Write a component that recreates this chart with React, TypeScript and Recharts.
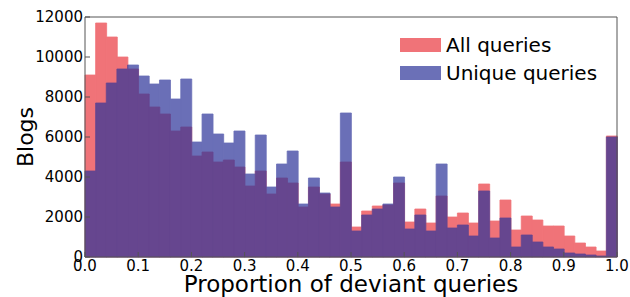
import React from 'react'
import { ComposedChart, Bar, XAxis, YAxis, ReferenceLine } from 'recharts'

// bin left edges, width 0.02
const bins = Array.from({ length: 50 }, (_, i) => (i * 0.02).toFixed(2))

const allQueries = [
  9100, 11700, 11000, 10000, 9400, 8150, 7500, 7150, 6300, 6500,
  5050, 5250, 4750, 4850, 4500, 3550, 4300, 3150, 3950, 3700,
  2500, 3500, 3150, 2650, 4750, 1500, 2300, 2550, 2600, 3700,
  1750, 2400, 1700, 3050, 2000, 2200, 1700, 3650, 1800, 2850,
  1350, 2050, 1850, 1550, 1550, 1050, 700, 500, 300, 6050,
]

const uniqueQueries = [
  4300, 7700, 8700, 9400, 9600, 9050, 8650, 8850, 7900, 8900,
  5750, 7150, 6150, 5700, 6300, 4150, 6100, 3500, 4650, 5300,
  2650, 3950, 3200, 2500, 7200, 1300, 2100, 2400, 2650, 4000,
  1400, 2100, 1300, 4650, 1450, 1600, 1050, 3300, 950, 1950,
  500, 1100, 750, 500, 400, 200, 150, 100, 50, 6000,
]

const xTicks = [0, 0.1, 0.2, 0.3, 0.4, 0.5, 0.6, 0.7, 0.8, 0.9, 1.0]
const yTicks = [0, 2000, 4000, 6000, 8000, 10000, 12000]

const RED = '#F07378'
const BLUE = '#2C3399'
const BLUE_OPACITY = 0.7
const FRAME = '#555'
const FONT = 'DejaVu Sans'

const rows = bins.map((b, i) => ({ bin: b, x: Number(b), all: allQueries[i], unique: uniqueQueries[i] }))

// fade the blue layer as a whole so neighbouring bars don't leave seams
const css = `g.recharts-bar.blue-bars { opacity: ${BLUE_OPACITY}; }`

function LegendBox() {
  const item = (label: string, fill: string, opacity: number) => (
    <div style={{ display: 'flex', alignItems: 'center', height: 28 }}>
      <div style={{ width: 41, height: 14, background: fill, opacity, marginRight: 5 }} />
      <span style={{ fontSize: 20, color: '#000', fontFamily: FONT }}>{label}</span>
    </div>
  )
  return (
    <div style={{ position: 'absolute', top: 31, left: 400, width: 215 }}>
      {item('All queries', RED, 1)}
      {item('Unique queries', BLUE, BLUE_OPACITY)}
    </div>
  )
}

export default function App() {
  const tickStyle = { fontSize: 15, fill: '#000', fontFamily: FONT }
  return (
    <div style={{ position: 'absolute', left: 0, top: 0, width: 630, height: 297, background: '#fff' }}>
      <style>{css}</style>
      <ComposedChart
        width={630}
        height={297}
        data={rows}
        margin={{ top: 17, right: 13, bottom: 0, left: 0 }}
        barCategoryGap={0}
        barGap={0}
      >
        <XAxis xAxisId="a" dataKey="bin" hide height={0} />
        <XAxis xAxisId="b" dataKey="bin" hide height={0} />
        <XAxis
          xAxisId="num"
          dataKey="x"
          type="number"
          domain={[0, 1]}
          allowDataOverflow
          ticks={xTicks}
          tickFormatter={(v: number) => v.toFixed(1)}
          height={40}
          tick={tickStyle}
          tickSize={-5}
          tickMargin={8}
          stroke={FRAME}
          interval={0}
          label={{ value: 'Proportion of deviant queries', position: 'insideBottom', offset: 5, style: { fontSize: 23, fill: '#000', fontFamily: FONT } }}
        />
        <YAxis
          domain={[0, 12000]}
          ticks={yTicks}
          width={85}
          tick={tickStyle}
          tickSize={-5}
          tickMargin={7}
          stroke={FRAME}
          label={{ value: 'Blogs', angle: -90, position: 'insideLeft', offset: 25, style: { fontSize: 22, fill: '#000', fontFamily: FONT, textAnchor: 'middle' } }}
        />
        <Bar xAxisId="a" dataKey="all" fill={RED} stroke={RED} strokeWidth={0.8} isAnimationActive={false} />
        <Bar xAxisId="b" dataKey="unique" fill={BLUE} stroke={BLUE} strokeWidth={0.8} className="blue-bars" isAnimationActive={false} />
        <ReferenceLine xAxisId="num" y={12000} stroke={FRAME} />
        <ReferenceLine xAxisId="num" x={1} stroke={FRAME} />
      </ComposedChart>
      <LegendBox />
    </div>
  )
}
